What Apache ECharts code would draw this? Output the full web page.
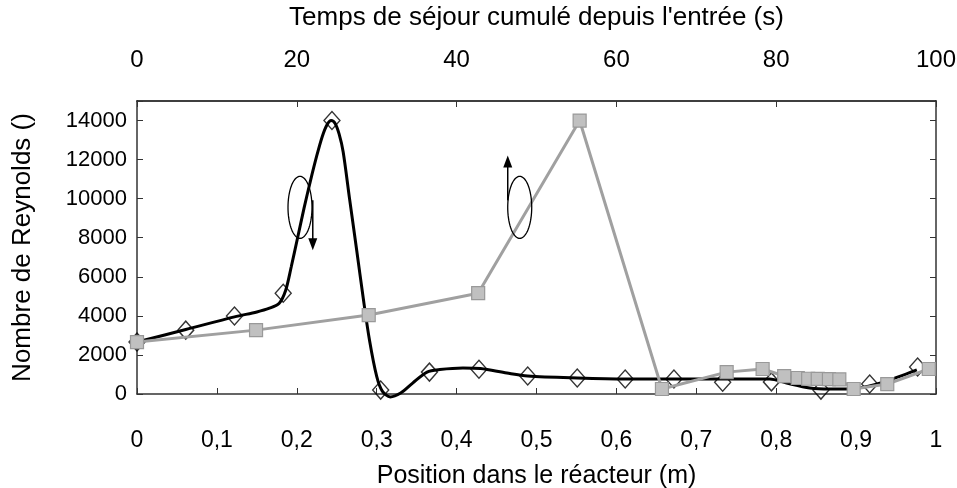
<!DOCTYPE html>
<html><head><meta charset="utf-8">
<script src="https://cdn.jsdelivr.net/npm/echarts@6/dist/echarts.min.js"></script>
<style>html,body{margin:0;padding:0;background:#fff}#c{width:957px;height:488px}</style>
</head><body><div id="c"></div>
<script>
// Black diamonds: Reynolds vs position (bottom axis)
const positions = [0, 0.061, 0.122, 0.183, 0.244, 0.305, 0.366, 0.428, 0.489, 0.551, 0.611, 0.672, 0.733, 0.794, 0.856, 0.917, 0.977];
const reynoldsByPosition = [2660, 3270, 3990, 5160, 14000, 200, 1120, 1270, 920, 820, 770, 770, 600, 620, 200, 510, 1380];
// Black fitted curve (position, Reynolds)
const curvePositions = [0, 0.061, 0.122, 0.150, 0.165, 0.178, 0.186, 0.193, 0.201, 0.209, 0.217, 0.225, 0.232, 0.238, 0.243, 0.248, 0.253, 0.258, 0.266, 0.275, 0.283, 0.291, 0.300, 0.307, 0.317, 0.330, 0.345, 0.363, 0.379, 0.408, 0.430, 0.463, 0.489, 0.551, 0.611, 0.676, 0.792, 0.813, 0.842, 0.867, 0.901, 0.934, 0.976];
const curveReynolds = [2660, 3300, 3950, 4200, 4380, 4650, 5300, 6500, 8000, 9500, 10900, 12200, 13200, 13800, 14000, 13850, 13300, 12400, 10000, 7350, 4950, 2750, 900, 150, -150, 50, 560, 1120, 1250, 1330, 1300, 1070, 920, 820, 770, 770, 770, 560, 310, 255, 300, 610, 1230];
// Gray squares: Reynolds vs cumulated residence time (top axis)
const times = [0, 14.9, 29.0, 42.7, 55.4, 65.7, 73.8, 78.3, 81.0, 82.7, 84.0, 85.2, 86.6, 87.9, 89.7, 93.9, 99.1];
const reynoldsByTime = [2660, 3270, 4040, 5160, 14000, 255, 1120, 1280, 920, 820, 780, 770, 760, 750, 255, 510, 1280];
// Annotations (data coordinates of bottom axis)
const ellipseBlack = [0.204, 9555];
const arrowBlack = [[0.220, 9913], [0.220, 7358]];
const ellipseGray = [0.479, 9555];
const arrowGray = [[0.464, 9913], [0.464, 12212]];

const FONT = "'Liberation Sans', Arial, Helvetica, sans-serif";
const axisCol = '#333';
const chart = echarts.init(document.getElementById('c'));
const toPairs = (xs, ys) => xs.map((x, i) => [x, ys[i]]);

chart.setOption({
  animation: false,
  backgroundColor: '#fff',
  grid: { left: 137, right: 21, top: 101, bottom: 94, outerBoundsMode: 'none', containLabel: false },
  xAxis: [
    { type: 'value', position: 'bottom', min: 0, max: 1, interval: 0.1,
      name: 'Position dans le réacteur (m)', nameLocation: 'middle', nameGap: 70,
      nameTextStyle: { fontFamily: FONT, fontSize: 25, color: '#000' },
      axisLine: { onZero: false, lineStyle: { color: axisCol, width: 1.5 } },
      axisTick: { inside: true, length: 6, lineStyle: { color: axisCol } },
      splitLine: { show: false },
      axisLabel: { fontFamily: FONT, fontSize: 23, color: '#000', margin: 35,
        formatter: v => String(Math.round(v * 10) / 10).replace('.', ',') } },
    { type: 'value', position: 'top', min: 0, max: 100, interval: 20,
      name: "Temps de séjour cumulé depuis l'entrée (s)", nameLocation: 'middle', nameGap: 70,
      nameTextStyle: { fontFamily: FONT, fontSize: 26, color: '#000' },
      axisLine: { onZero: false, lineStyle: { color: '#000', width: 1.5 } },
      axisTick: { inside: true, length: 6, lineStyle: { color: axisCol } },
      splitLine: { show: false },
      axisLabel: { fontFamily: FONT, fontSize: 24, color: '#000', margin: 29 } }
  ],
  yAxis: [
    { type: 'value', position: 'left', min: 0, max: 15000, interval: 2000,
      name: 'Nombre de Reynolds ()', nameLocation: 'middle', nameGap: 101,
      nameTextStyle: { fontFamily: FONT, fontSize: 26, color: '#000' },
      axisLine: { show: true, onZero: false, lineStyle: { color: axisCol, width: 1.5 } },
      axisTick: { show: true, inside: true, length: 6, lineStyle: { color: axisCol } },
      splitLine: { show: false },
      axisLabel: { fontFamily: FONT, fontSize: 22, color: '#000', margin: 10,
        formatter: v => (v > 14000 ? '' : String(v)) } },
    { type: 'value', position: 'right', min: 0, max: 15000, interval: 2000,
      axisLine: { show: true, onZero: false, lineStyle: { color: axisCol, width: 1.5 } },
      axisTick: { show: true, inside: true, length: 6, lineStyle: { color: axisCol } },
      splitLine: { show: false }, axisLabel: { show: false } }
  ],
  series: [
    { type: 'line', name: 'courbe', xAxisIndex: 0, yAxisIndex: 0, data: toPairs(curvePositions, curveReynolds),
      smooth: 0.3, clip: false, showSymbol: false, symbol: 'none',
      lineStyle: { color: '#000', width: 3 }, z: 2 },
    { type: 'scatter', name: 'position', xAxisIndex: 0, yAxisIndex: 0, data: toPairs(positions, reynoldsByPosition),
      clip: false, symbol: 'diamond', symbolSize: [16, 18],
      itemStyle: { color: 'rgba(255,255,255,0)', borderColor: '#000', borderWidth: 1.4 }, z: 3 },
    { type: 'line', name: 'temps', xAxisIndex: 1, yAxisIndex: 0, data: toPairs(times, reynoldsByTime),
      smooth: false, clip: false, symbol: 'rect', symbolSize: 13,
      lineStyle: { color: '#a0a0a0', width: 3 },
      itemStyle: { color: '#c0c0c0', borderColor: '#999', borderWidth: 1.2 }, z: 4 }
  ]
});

function ellipsePoints(c, rx, ry) {
  const pts = [];
  for (let i = 0; i < 72; i++) { const a = i / 72 * Math.PI * 2; pts.push([c[0] + rx * Math.cos(a), c[1] + ry * Math.sin(a)]); }
  return pts;
}
function arrow(a, b) {
  const p = chart.convertToPixel({ xAxisIndex: 0, yAxisIndex: 0 }, a);
  const q = chart.convertToPixel({ xAxisIndex: 0, yAxisIndex: 0 }, b);
  const dir = Math.sign(q[1] - p[1]);
  return [
    { type: 'line', shape: { x1: p[0], y1: p[1], x2: q[0], y2: q[1] - dir * 8 }, style: { stroke: '#000', lineWidth: 1.5 }, z: 10 },
    { type: 'polygon', shape: { points: [[q[0], q[1]], [q[0] - 4.5, q[1] - dir * 12], [q[0] + 4.5, q[1] - dir * 12]] }, style: { fill: '#000' }, z: 10 }
  ];
}
const e1 = chart.convertToPixel({ xAxisIndex: 0, yAxisIndex: 0 }, ellipseBlack);
const e2 = chart.convertToPixel({ xAxisIndex: 0, yAxisIndex: 0 }, ellipseGray);
chart.setOption({
  graphic: [
    { type: 'polygon', shape: { points: ellipsePoints(e1, 12, 31) }, style: { fill: 'none', stroke: '#000', lineWidth: 1.3 }, z: 10 },
    { type: 'polygon', shape: { points: ellipsePoints(e2, 12, 31) }, style: { fill: 'none', stroke: '#000', lineWidth: 1.3 }, z: 10 },
    ...arrow(arrowBlack[0], arrowBlack[1]),
    ...arrow(arrowGray[0], arrowGray[1])
  ]
});
</script></body></html>
